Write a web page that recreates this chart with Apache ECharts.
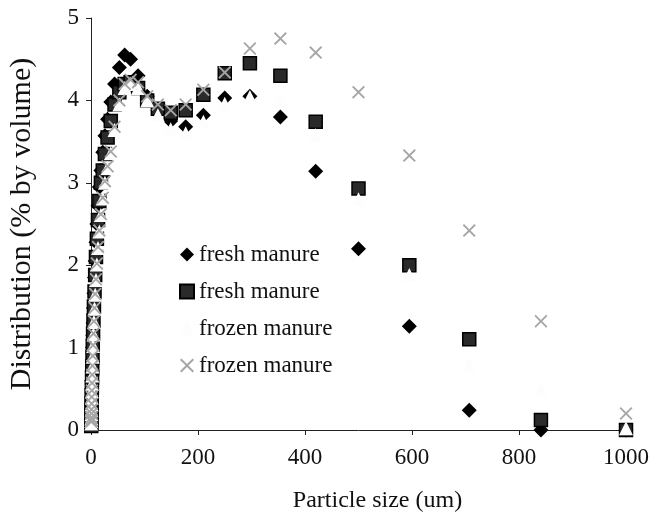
<!DOCTYPE html>
<html>
<head>
<meta charset="utf-8">
<script src="https://cdn.jsdelivr.net/npm/echarts@6/dist/echarts.min.js"></script>
<style>
  html, body { margin: 0; padding: 0; background: #fff; }
  #chart { width: 656px; height: 521px; }
</style>
</head>
<body>
<div id="chart"></div>
<script>
// particle size bins (um)
const sizes = [0.49, 0.58, 0.69, 0.82, 0.98, 1.16, 1.38, 1.64, 1.95, 2.3, 2.8, 3.3, 3.9, 4.6, 5.5, 6.6, 7.8, 9.3, 11, 13.1, 15.6, 18.5, 22, 26, 31, 37, 44, 53, 63, 74, 88, 105, 125, 149, 177, 210, 250, 297, 354, 420, 500, 595, 707, 841, 1000];

// distribution (% by volume)
const freshA = [0.05, 0.1, 0.15, 0.22, 0.3, 0.4, 0.5, 0.6, 0.72, 0.85, 1.0, 1.15, 1.3, 1.48, 1.66, 1.85, 2.05, 2.28, 2.5, 2.72, 2.95, 3.15, 3.37, 3.57, 3.77, 3.98, 4.2, 4.4, 4.55, 4.5, 4.3, 4.05, 3.88, 3.75, 3.68, 3.82, 4.03, 4.05, 3.8, 3.14, 2.2, 1.26, 0.24, 0.0, 0.0];
const freshB = [0.05, 0.08, 0.12, 0.18, 0.25, 0.33, 0.42, 0.52, 0.63, 0.75, 0.88, 1.02, 1.17, 1.33, 1.5, 1.68, 1.88, 2.1, 2.32, 2.55, 2.78, 3.0, 3.15, 3.35, 3.55, 3.75, 3.95, 4.1, 4.2, 4.22, 4.15, 4.0, 3.9, 3.85, 3.88, 4.07, 4.33, 4.45, 4.3, 3.74, 2.93, 2.0, 1.1, 0.12, 0.0];
const frozenA = [0.08, 0.11, 0.14, 0.19, 0.24, 0.31, 0.39, 0.47, 0.56, 0.66, 0.77, 0.89, 1.02, 1.16, 1.31, 1.47, 1.64, 1.82, 2.01, 2.21, 2.41, 2.61, 2.81, 3.0, 3.18, 3.36, 3.64, 3.95, 4.15, 4.2, 4.15, 4.0, 3.82, 3.65, 3.6, 3.74, 3.96, 4.04, 4.0, 3.58, 2.8, 1.88, 0.8, 0.5, 0.02];
const frozenB = [0.1, 0.12, 0.15, 0.2, 0.25, 0.32, 0.4, 0.48, 0.57, 0.67, 0.78, 0.9, 1.03, 1.17, 1.32, 1.48, 1.65, 1.83, 2.02, 2.22, 2.42, 2.62, 2.82, 3.02, 3.2, 3.38, 3.68, 4.0, 4.2, 4.25, 4.22, 4.05, 3.95, 3.88, 3.95, 4.13, 4.34, 4.63, 4.75, 4.58, 4.1, 3.33, 2.42, 1.32, 0.2];

const seriesNames = ['fresh manure', 'fresh manure\u200b', 'frozen manure', 'frozen manure\u200b'];

const xTicks = [0, 200, 400, 600, 800, 1000];
const yTicks = [0, 1, 2, 3, 4, 5];

const font = 'Liberation Serif';
const crossPath = 'path://M0,1L1,0L5,4L9,0L10,1L6,5L10,9L9,10L5,6L1,10L0,9L4,5Z';

const pairs = vals => sizes.map((s, i) => [s, vals[i]]);

const chart = echarts.init(document.getElementById('chart'));

chart.setOption({
  backgroundColor: '#fff',
  animation: false,
  grid: {
    left: 91,
    right: 30,
    top: 18,
    bottom: 91,
    outerBoundsMode: 'none'
  },
  legend: {
    orient: 'vertical',
    left: 174,
    top: 238,
    itemWidth: 14,
    itemHeight: 14,
    itemGap: 14,
    textStyle: {
      fontFamily: font,
      fontSize: 23,
      color: '#111'
    },
    data: seriesNames
  },
  xAxis: {
    type: 'value',
    min: xTicks[0],
    max: xTicks[xTicks.length - 1],
    interval: 200,
    name: 'Particle size (um)',
    nameLocation: 'middle',
    nameGap: 59,
    nameTextStyle: {
      fontFamily: font,
      fontSize: 24,
      color: '#111',
      padding: [0, 0, 0, 38]
    },
    axisLine: { lineStyle: { color: '#222', width: 1 } },
    axisTick: { show: true, length: 5, lineStyle: { color: '#222' } },
    axisLabel: {
      fontFamily: font,
      fontSize: 23,
      color: '#111',
      margin: 16,
      formatter: v => String(v)
    },
    splitLine: { show: false }
  },
  yAxis: {
    type: 'value',
    min: yTicks[0],
    max: yTicks[yTicks.length - 1],
    interval: 1,
    name: 'Distribution (% by volume)',
    nameLocation: 'middle',
    nameGap: 54,
    nameTextStyle: {
      fontFamily: font,
      fontSize: 30,
      color: '#111'
    },
    axisLine: { show: true, lineStyle: { color: '#222', width: 1 } },
    axisTick: { show: true, length: 5, lineStyle: { color: '#222' } },
    axisLabel: {
      fontFamily: font,
      fontSize: 23,
      color: '#111',
      margin: 12
    },
    splitLine: { show: false }
  },
  series: [
    {
      name: seriesNames[0],
      type: 'scatter',
      symbol: 'diamond',
      symbolSize: 15,
      itemStyle: { color: '#000', opacity: 1 },
      data: pairs(freshA)
    },
    {
      name: seriesNames[1],
      type: 'scatter',
      symbol: 'rect',
      symbolSize: 13,
      itemStyle: { color: '#2a2a2a', borderColor: '#000', borderWidth: 1.5, opacity: 1 },
      data: pairs(freshB)
    },
    {
      name: seriesNames[2],
      type: 'scatter',
      symbol: 'triangle',
      symbolSize: 14,
      itemStyle: { color: '#fdfdfd', opacity: 1 },
      data: pairs(frozenA)
    },
    {
      name: seriesNames[3],
      type: 'scatter',
      symbol: crossPath,
      symbolSize: 13,
      itemStyle: { color: '#a6a6a6', opacity: 1 },
      data: pairs(frozenB)
    }
  ]
});

window.addEventListener('resize', () => {
  chart && chart.resize();
});
</script>
</body>
</html>
